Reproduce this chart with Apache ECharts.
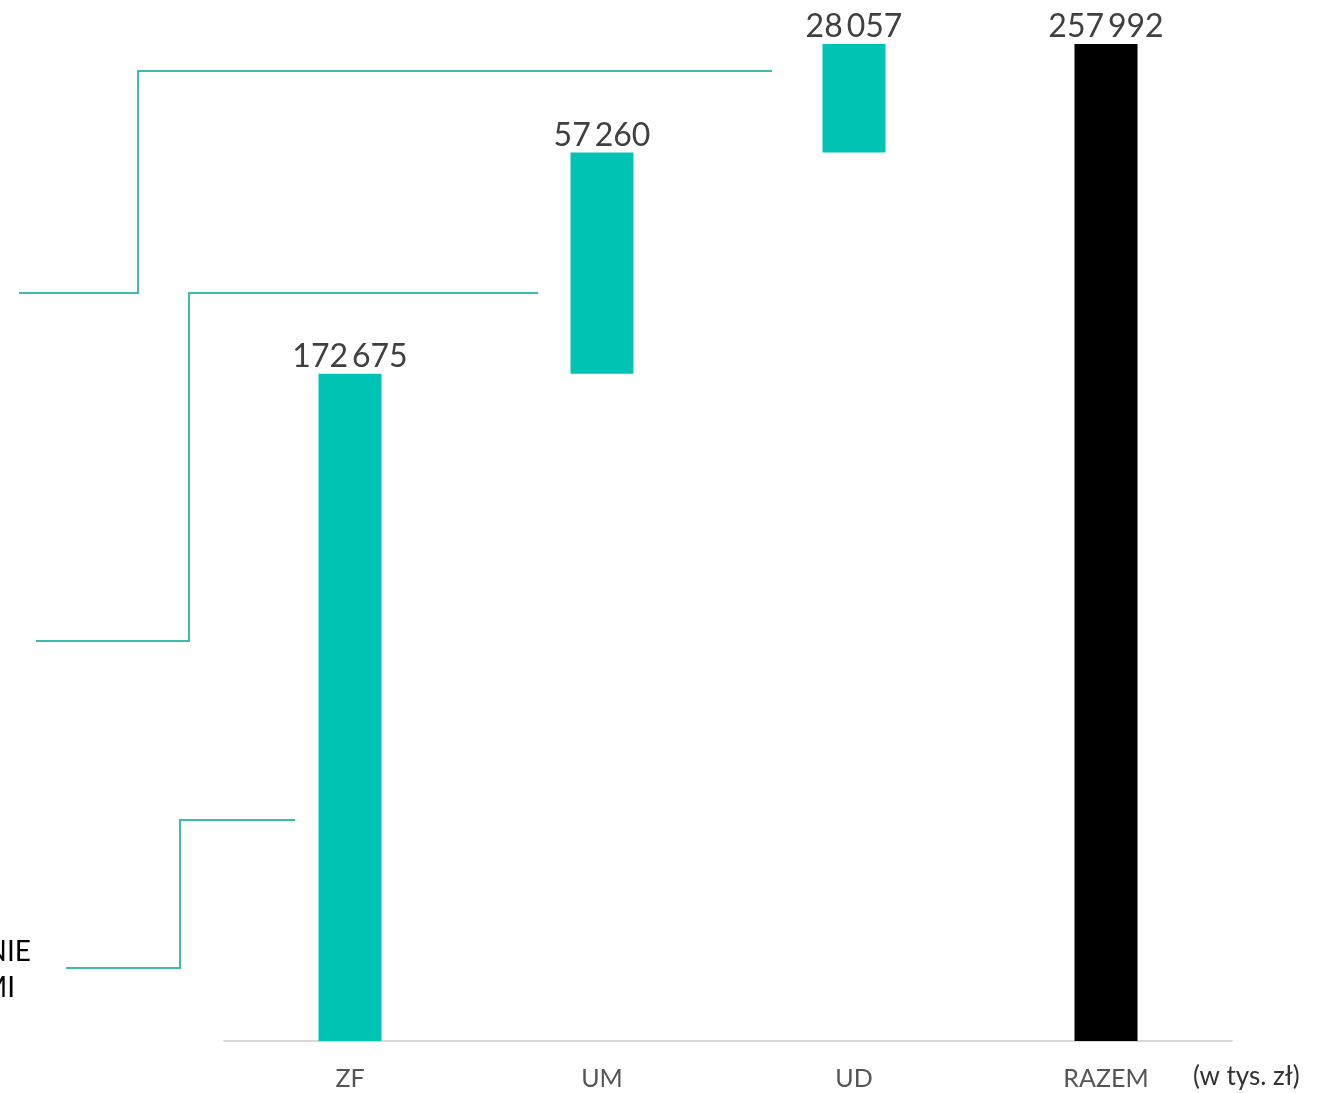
<!DOCTYPE html>
<html>
<head>
<meta charset="UTF-8">
<title>Waterfall</title>
<script src="https://cdn.jsdelivr.net/npm/echarts@6/dist/echarts.min.js"></script>
<style>
  html, body { margin: 0; padding: 0; background: #fff; }
  #container { width: 1319px; height: 1093px; }
</style>
</head>
<body>
<div id="container"></div>
<script>
// dane
var categories = ['ZF', 'UM', 'UD', 'RAZEM'];
var values = [172675, 57260, 28057, 257992];
var isTotal = [false, false, false, true];
var unitLabel = '(w tys. zł)';

var TEAL = '#00c4b3';
var LINE = '#3cbcae';

// podstawa (niewidoczna) dla kolejnych przyrostów
var base = [];
var run = 0;
for (var i = 0; i < values.length; i++) {
  if (isTotal[i]) { base.push(0); }
  else { base.push(run); run += values[i]; }
}

function fmt(v) {
  return String(v).replace(/\B(?=(\d{3})+(?!\d))/g, '\u2009');
}

var dom = document.getElementById('container');
var myChart = echarts.init(dom);

function step(points) {
  return {
    type: 'polyline',
    shape: { points: points },
    style: { stroke: LINE, lineWidth: 2, fill: null },
    silent: true
  };
}

var option = {
  animation: false,
  grid: { left: 224, right: 87, top: 44, bottom: 52 },
  xAxis: {
    type: 'category',
    data: categories,
    axisLine: { lineStyle: { color: '#d9d9d9', width: 2 } },
    axisTick: { show: false },
    axisLabel: {
      color: '#555555',
      fontFamily: 'Lato',
      fontSize: 25,
      margin: 25
    }
  },
  yAxis: {
    type: 'value',
    min: 0,
    max: values[values.length - 1],
    show: false,
    splitLine: { show: false }
  },
  series: [
    {
      type: 'bar',
      stack: 'w',
      data: base,
      itemStyle: { color: 'transparent' },
      barWidth: 63,
      silent: true
    },
    {
      type: 'bar',
      stack: 'w',
      barWidth: 63,
      data: values.map(function (v, i) {
        return { value: v, itemStyle: { color: isTotal[i] ? '#000000' : TEAL } };
      }),
      label: {
        show: true,
        position: 'top',
        distance: 1,
        color: '#404040',
        fontFamily: 'Lato',
        fontSize: 32,
        formatter: function (p) { return fmt(p.value); }
      }
    }
  ],
  graphic: [
    step([[772, 71], [138, 71], [138, 293], [19, 293]]),
    step([[538, 293], [189, 293], [189, 641], [36, 641]]),
    step([[295, 820], [180, 820], [180, 968], [66, 968]]),
    {
      type: 'text', left: 1193, top: 1064,
      style: { text: unitLabel, fill: '#333333', font: '26px Lato' }
    },
    {
      type: 'text', x: 31, y: 952,
      style: { text: 'NIE', fill: '#000000', font: '28px Lato', align: 'right', verticalAlign: 'middle' }
    },
    {
      type: 'text', x: 15, y: 988,
      style: { text: 'MI', fill: '#000000', font: '28px Lato', align: 'right', verticalAlign: 'middle' }
    }
  ]
};

if (option && typeof option === 'object') {
  myChart.setOption(option, true);
}
</script>
</body>
</html>
